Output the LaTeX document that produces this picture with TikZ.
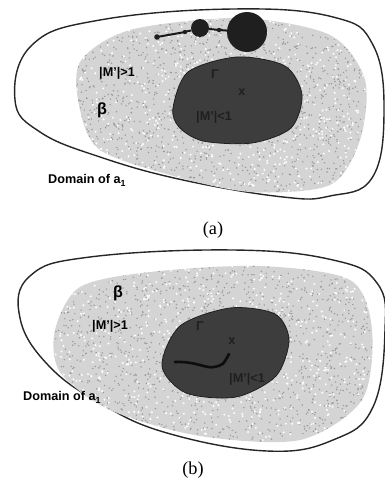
\documentclass[tikz,border=0pt]{standalone}
\usepackage{fontspec}
\setmainfont{Liberation Serif}
\setsansfont{Liberation Sans}

\begin{document}
\begin{tikzpicture}[x=1mm,y=-1mm,
  rim/.style={draw=black!85,line width=1.4mm},
  haze/.style={fill=black!17},
  grain/.style={fill=black!40},
  speck/.style={fill=white},
  core/.style={fill=black!76,draw=black!88,line width=0.8mm},
  lbl/.style={font=\sffamily\bfseries\fontsize{36}{40}\selectfont,inner sep=0pt},
  greek/.style={font=\sffamily\bfseries\fontsize{46}{50}\selectfont,inner sep=0pt},
  faint/.style={lbl,text=black!88},
  panel/.style={font=\fontsize{52}{56}\selectfont,inner sep=0pt},
  chain/.style={line width=2mm,black!90},
  ball/.style={fill=black!88}]
\useasboundingbox (0,0) rectangle (385,480);

% (a) domain, speckled basin and core
\draw[rim] plot[smooth cycle,tension=0.7] coordinates {(15,100) (32,45) (100,20) (233,9) (333,17) (373,45) (384,112) (372,178) (330,196) (283,197) (183,180) (100,157) (40,132)};
\begin{scope}
  \clip plot[smooth cycle] coordinates {(80,62) (130,30) (240,18) (330,35) (365,80) (360,140) (330,185) (250,192) (170,175) (100,150) (80,110)};
  \fill[haze] (0,0) rectangle (385,240);
  \pgfmathsetseed{11}
  \foreach \i in {1,...,1600}{
    \fill[grain] ({70+rnd*305},{12+rnd*185}) circle (0.8);
  }
  \foreach \i in {1,...,700}{
    \fill[speck] ({70+rnd*305},{12+rnd*185}) circle (1.1);
  }
\end{scope}
\fill[core] plot[smooth cycle] coordinates {(173,108) (188,72) (237,57) (285,66) (302,95) (291,128) (252,143) (203,141) (179,127)};

% (a) chain of attractors
\coordinate (seed) at (157,37);
\coordinate (knotA) at (185,32);
\coordinate (knotB) at (219,30);
\node[ball,circle,minimum size=18mm,inner sep=0pt] (small) at (200,28) {};
\node[ball,circle,minimum size=40mm,inner sep=0pt] (big) at (247,32) {};
\draw[chain] (seed) -- (knotA) -- (small);
\draw[chain] (small) -- (knotB) -- (big);
\fill[ball] (seed) circle (2.8);
\fill[ball] (knotA) circle (2.2);
\fill[ball] (knotB) circle (2.2);

\node[lbl] (outA) at (117,73) {|M'|>1};
\node[greek] (betaA) at (102,110) {β};
\node[faint] (gammaA) at (215,74) {Γ};
\node[faint] (xA) at (242,92) {x};
\node[faint] (inA) at (214,117) {|M'|<1};
\node[lbl] (domA) at (87,180) {Domain of a\textsubscript{1}};
\node[panel] (capA) at (213,230) {(a)};

% (b) domain, speckled basin and core
\draw[rim] plot[smooth cycle,tension=0.7] coordinates {(20,318) (30,276) (90,257) (233,250) (333,260) (377,283) (385,330) (373,407) (333,440) (267,451) (167,433) (100,403) (48,365)};
\begin{scope}
  \clip plot[smooth cycle] coordinates {(55,330) (80,287) (150,272) (260,266) (350,280) (372,330) (362,400) (300,440) (200,436) (110,410) (60,372)};
  \fill[haze] (0,240) rectangle (385,480);
  \pgfmathsetseed{23}
  \foreach \i in {1,...,1600}{
    \fill[grain] ({50+rnd*325},{262+rnd*182}) circle (0.8);
  }
  \foreach \i in {1,...,700}{
    \fill[speck] ({50+rnd*325},{262+rnd*182}) circle (1.1);
  }
\end{scope}
\fill[core] plot[smooth cycle] coordinates {(162,366) (180,326) (230,308) (275,314) (289,340) (276,376) (236,397) (186,393)};

% (b) orbit falling onto the point x
\coordinate (startB) at (175,362);
\coordinate (bendB) at (214,367);
\coordinate (endB) at (229,354);
\draw[line width=2.6mm,black!95,line cap=round] (startB) .. controls (195,361) and (207,369) .. (bendB) .. controls (223,365) .. (endB);

\node[greek] (betaB) at (118,293) {β};
\node[lbl] (outB) at (110,326) {|M'|>1};
\node[faint] (gammaB) at (200,326) {Γ};
\node[faint] (xB) at (232,341) {x};
\node[faint] (inB) at (247,379) {|M'|<1};
\node[lbl] (domB) at (62,397) {Domain of a\textsubscript{1}};
\node[panel] (capB) at (193,470) {(b)};
\end{tikzpicture}
\end{document}
